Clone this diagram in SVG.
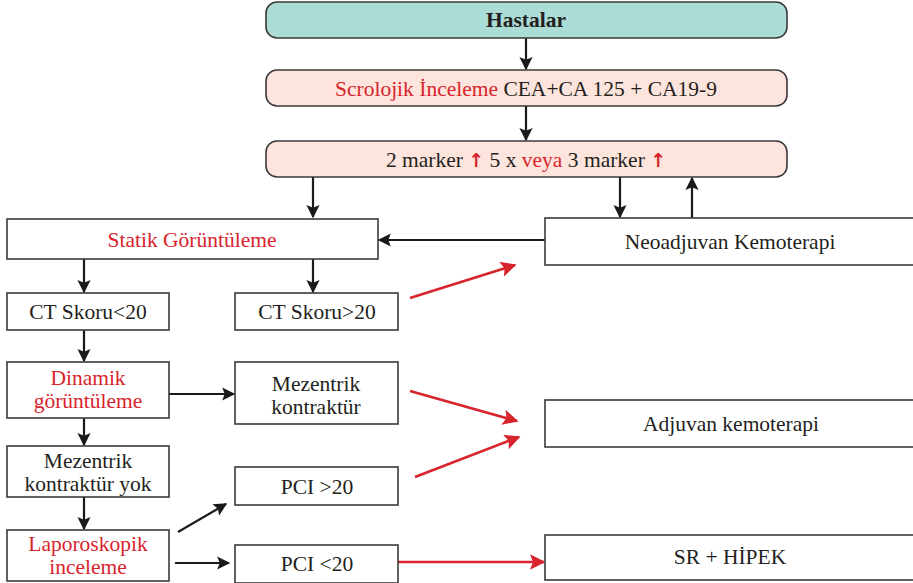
<svg xmlns="http://www.w3.org/2000/svg" width="913" height="583" viewBox="0 0 913 583">
<defs>
<style>
.box{fill:#fff;stroke:#3a3a3a;stroke-width:1.6}
.rb{stroke:#3a3a3a;stroke-width:1.6}
.r{fill:#d7242d}
.k{stroke:#1a1a1a;stroke-width:2.2;fill:none}
.red{stroke:#d7242d;stroke-width:2.6;fill:none}
</style>
<marker id="ah" viewBox="0 0 10 10" refX="9" refY="5" markerWidth="6.5" markerHeight="6" orient="auto" markerUnits="strokeWidth"><path d="M0,0 L10,5 L0,10 L2,5 z" fill="#1a1a1a"/></marker>
<marker id="ahr" viewBox="0 0 10 10" refX="9" refY="5" markerWidth="7" markerHeight="6" orient="auto" markerUnits="strokeWidth"><path d="M0,0 L10,5 L0,10 L2,5 z" fill="#d7242d"/></marker>
</defs>
<g id="connectors">
<line class="k" x1="526" y1="38" x2="526" y2="69" marker-end="url(#ah)"/>
<line class="k" x1="526" y1="106" x2="526" y2="140" marker-end="url(#ah)"/>
<line class="k" x1="313" y1="177" x2="313" y2="217" marker-end="url(#ah)"/>
<line class="k" x1="620" y1="177" x2="620" y2="217" marker-end="url(#ah)"/>
<line class="k" x1="692" y1="218" x2="692" y2="178" marker-end="url(#ah)"/>
<line class="k" x1="545" y1="240" x2="379" y2="240" marker-end="url(#ah)"/>
<line class="k" x1="84" y1="259" x2="84" y2="292" marker-end="url(#ah)"/>
<line class="k" x1="313" y1="259" x2="313" y2="292" marker-end="url(#ah)"/>
<line class="k" x1="84" y1="330" x2="84" y2="361" marker-end="url(#ah)"/>
<line class="k" x1="169" y1="394" x2="234" y2="394" marker-end="url(#ah)"/>
<line class="k" x1="84" y1="418" x2="84" y2="445" marker-end="url(#ah)"/>
<line class="k" x1="84" y1="497" x2="84" y2="529" marker-end="url(#ah)"/>
<line class="k" x1="178" y1="532" x2="226" y2="504" marker-end="url(#ah)"/>
<line class="k" x1="175" y1="563" x2="229" y2="563" marker-end="url(#ah)"/>
<line class="red" x1="410" y1="298" x2="515" y2="265" marker-end="url(#ahr)"/>
<line class="red" x1="410" y1="391" x2="517" y2="421" marker-end="url(#ahr)"/>
<line class="red" x1="415" y1="477" x2="519" y2="437" marker-end="url(#ahr)"/>
<line class="red" x1="398" y1="562" x2="544" y2="562" marker-end="url(#ahr)"/>
</g>
<g font-family="Liberation Serif, serif" font-size="21.5" fill="#231f20" text-anchor="middle">
<g id="hastalar">
<rect class="rb" x="266" y="2" width="521" height="36" rx="11" fill="#acdcd6"/>
<text x="526" y="27" font-weight="bold">Hastalar</text>
</g>
<g id="serolojik">
<rect class="rb" x="266" y="70" width="521" height="36" rx="11" fill="#fde4dc"/>
<text x="526" y="96"><tspan class="r">Scrolojik İnceleme</tspan> CEA+CA 125 + CA19-9</text>
</g>
<g id="marker">
<rect class="rb" x="266" y="141" width="521" height="36" rx="11" fill="#fde4dc"/>
<text x="526" y="167">2 marker <tspan class="r" font-weight="bold" font-family="DejaVu Sans, sans-serif" font-size="19">↑</tspan> 5 x <tspan class="r">veya</tspan> 3 marker <tspan class="r" font-weight="bold" font-family="DejaVu Sans, sans-serif" font-size="19">↑</tspan></text>
</g>
<g id="statik">
<rect class="box" x="7" y="219" width="371" height="40"/>
<text class="r" x="192" y="247">Statik Görüntüleme</text>
</g>
<g id="neoadjuvan">
<rect class="box" x="545" y="218" width="372" height="47"/>
<text x="730" y="249">Neoadjuvan Kemoterapi</text>
</g>
<g id="ct-lt">
<rect class="box" x="7" y="293" width="162" height="37"/>
<text x="88" y="319">CT Skoru&lt;20</text>
</g>
<g id="ct-gt">
<rect class="box" x="235" y="293" width="163" height="37"/>
<text x="317" y="319">CT Skoru&gt;20</text>
</g>
<g id="dinamik">
<rect class="box" x="7" y="362" width="162" height="56"/>
<text class="r" x="88" y="385">Dinamik</text>
<text class="r" x="88" y="408">görüntüleme</text>
</g>
<g id="mezentrik">
<rect class="box" x="235" y="362" width="163" height="62"/>
<text x="316" y="391">Mezentrik</text>
<text x="316" y="414">kontraktür</text>
</g>
<g id="mezentrik-yok">
<rect class="box" x="7" y="446" width="162" height="51"/>
<text x="88" y="468">Mezentrik</text>
<text x="88" y="491">kontraktür yok</text>
</g>
<g id="pci-gt">
<rect class="box" x="235" y="467" width="163" height="38"/>
<text x="317" y="494">PCI &gt;20</text>
</g>
<g id="adjuvan">
<rect class="box" x="545" y="400" width="372" height="47"/>
<text x="731" y="431">Adjuvan kemoterapi</text>
</g>
<g id="laparoskopik">
<rect class="box" x="7" y="530" width="162" height="51"/>
<text class="r" x="88" y="551">Laporoskopik</text>
<text class="r" x="88" y="574">inceleme</text>
</g>
<g id="pci-lt">
<rect class="box" x="235" y="545" width="163" height="38"/>
<text x="317" y="571">PCI &lt;20</text>
</g>
<g id="sr-hipek">
<rect class="box" x="545" y="535" width="372" height="45"/>
<text x="730" y="564">SR + HİPEK</text>
</g>
</g>
</svg>
